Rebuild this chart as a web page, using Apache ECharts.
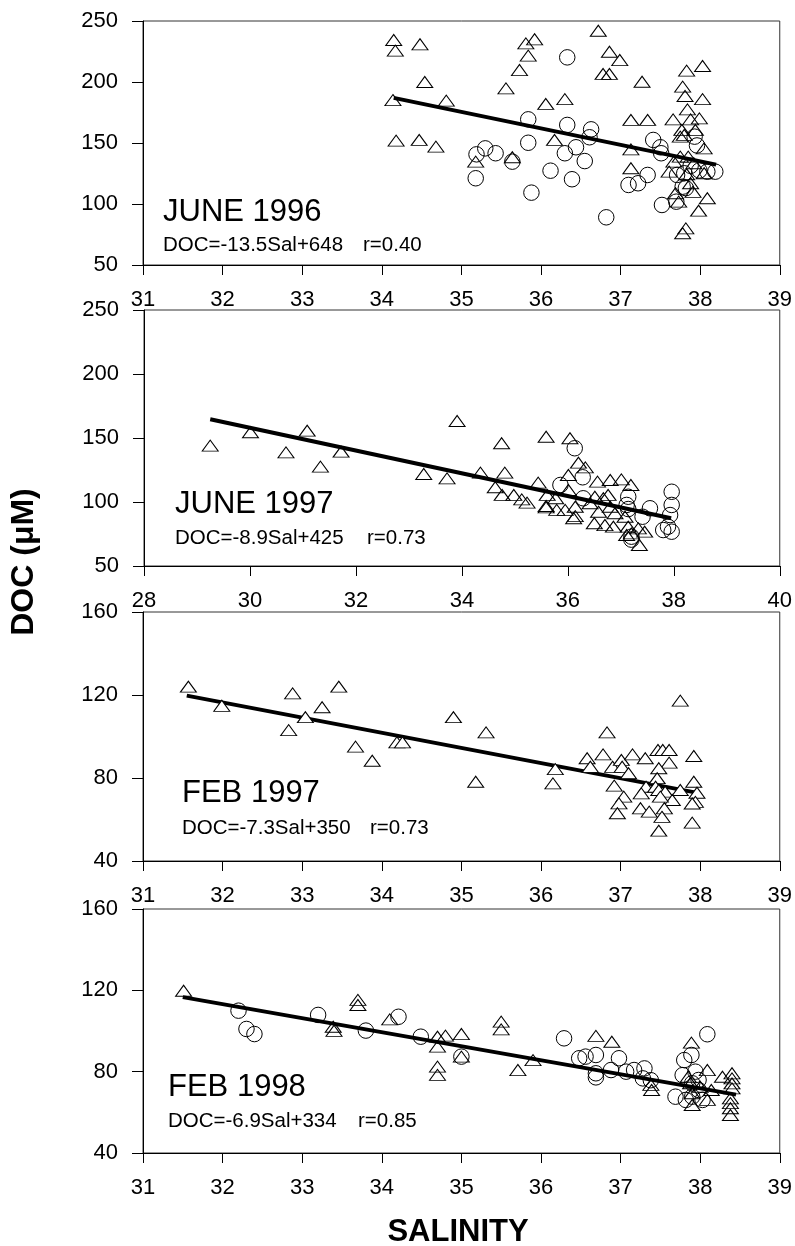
<!DOCTYPE html>
<html>
<head>
<meta charset="utf-8">
<script src="https://cdn.jsdelivr.net/npm/echarts@6/dist/echarts.min.js"></script>
<style>
  html, body { margin: 0; padding: 0; background: #fff; }
  #chart { width: 795px; height: 1246px; }
</style>
</head>
<body>
<div id="chart"></div>
<script>
// Salinity vs DOC, four cruises. Each point: [salinity, DOC (µM)].
const panelTitles = ['JUNE 1996', 'JUNE 1997', 'FEB 1997', 'FEB 1998'];

// Regression fits printed on each panel: DOC = slope*Sal + intercept
const fitSlope = [-13.5, -8.9, -7.3, -6.9];
const fitIntercept = [648, 425, 350, 334];
const fitR = [0.40, 0.73, 0.73, 0.85];
// salinity span covered by each fitted line
const fitSalRange = [[34.15, 38.2], [29.25, 37.95], [31.55, 37.95], [31.5, 38.45]];

// Axis scales per panel
const xMin = [31, 28, 31, 31];
const xMax = [39, 40, 39, 39];
const xStep = [1, 2, 1, 1];
const yMin = [50, 50, 40, 40];
const yMax = [250, 250, 160, 160];
const yStep = [50, 50, 40, 40];

const jun96Tri = [
  [34.15,234.4],[34.17,225.7],[34.48,230.9],[34.54,200],[34.14,185.2],[34.81,184.7],[34.18,151.9],[34.47,152.5],
  [34.68,147],[35.18,134.7],[35.64,138.3],[35.56,194.8],[35.73,209.8],[35.81,231.7],[35.92,235],[35.84,221.6],
  [36.06,182],[36.30,186],[36.17,152.5],[36.72,242],[36.86,224.8],[36.99,218],[36.78,206.6],[36.86,206.6],
  [37.27,200.2],[37.13,168.9],[37.34,168.9],[37.13,144.8],[37.13,129.3],[37.66,169.4],[37.83,209.3],[38.03,213.1],
  [37.78,196.2],[37.81,188.5],[38.03,186],[37.84,177.6],[37.88,169.4],[37.99,170.2],[37.77,160.7],[37.75,155.2],
  [37.80,156.6],[37.94,160.7],[38.05,145.6],[37.75,138.8],[37.85,138.8],[37.67,134.7],[37.92,133.4],[37.61,126.5],
  [38.05,125.2],[37.83,124.4],[37.88,117],[37.69,108.8],[37.91,110],[38.09,104.7],[37.73,101.9],[37.98,94.5],
  [37.82,80],[37.78,76]
];
const jun96Circ = [
  [35.18,121.1],[35.19,140.7],[35.30,145.6],[35.43,141.6],[35.64,134.7],[35.84,169.4],[35.84,150.2],[35.88,109.3],
  [36.12,127.3],[36.33,220.2],[36.33,164.8],[36.30,141.6],[36.44,146.5],[36.39,120.3],[36.55,135.2],[36.63,161.2],
  [36.61,154.7],[36.82,89.1],[37.10,115.6],[37.22,117],[37.34,123.8],[37.41,152.5],[37.50,146.5],[37.51,141.6],
  [37.52,99.2],[37.70,101.9],[37.71,123.8],[37.80,125.2],[37.88,131.3],[37.78,114.2],[37.82,113],[37.93,155.2],
  [37.96,148],[38.09,126.5],[38.19,126.5],[37.99,127.5]
];
const jun97Tri = [
  [29.25,144],[30.01,154.5],[30.68,138.8],[31.08,155.7],[31.33,127.6],[31.72,139.3],[33.28,121.9],[33.72,118.5],
  [33.91,163.3],[34.75,145.9],[35.59,151],[36.04,149.8],[34.35,122.9],[34.81,122.9],[34.63,111.5],[34.76,105.5],
  [34.98,105.5],[35.13,102.1],[35.23,99.5],[35.44,115.1],[35.59,96.9],[35.61,105.5],[35.77,102.9],[36.01,121.1],
  [36.20,130.7],[36.33,127.1],[35.95,93.8],[36.11,87.3],[36.01,109.4],[36.14,96.3],[36.56,115.9],[36.80,117.2],
  [37.01,117.7],[37.19,113.3],[36.51,104.1],[36.67,102.9],[36.76,105.5],[36.42,99],[36.58,92.4],[36.80,96.3],
  [36.89,91.2],[36.50,83.4],[36.70,82],[36.86,80.7],[37.08,88.5],[37.14,80.7],[37.20,75.5],[37.33,79.4],
  [37.45,76.8],[37.35,66.4],[37.11,74.2],[35.79,93.8],[35.59,95.8],[36.14,89]
];
const jun97Circ = [
  [36.13,142],[36.28,119.3],[35.86,113.3],[36.29,102.9],[37.14,104.1],[37.11,97.7],[37.14,94.5],[37.55,95.1],
  [37.41,88.5],[37.20,72.9],[37.20,70.6],[37.96,108],[37.96,97.7],[37.93,89.8],[37.80,78.1],[37.96,76.8],[37.89,80.7]
];
const feb97Tri = [
  [31.57,124],[31.99,114.8],[32.88,120.8],[32.83,103.1],[33.04,109.3],[33.25,114.1],[33.46,124],[33.67,95.1],
  [33.88,88.3],[34.19,97.2],[34.26,97.2],[34.90,109.3],[35.31,102],[35.18,78.2],[36.18,84.3],[36.15,77.4],
  [37.75,117.3],[36.83,102],[36.58,89.5],[36.78,91.4],[36.62,85.4],[36.90,85.4],[37.01,88.7],[37.02,85.4],
  [37.15,91.4],[37.10,82.3],[37.31,89.5],[36.92,76.3],[37.04,71],[36.98,67.8],[36.96,63],[37.47,93.5],
  [37.53,93.5],[37.61,93.5],[37.61,87.4],[37.48,84.7],[37.46,79.9],[37.32,75.8],[37.26,72.6],[37.44,75.8],
  [37.48,74.2],[37.56,73.4],[37.65,69.4],[37.50,71],[37.25,65.4],[37.36,63.8],[37.55,65.4],[37.52,61.3],
  [37.48,54.6],[37.75,74.2],[37.92,90.6],[37.92,78.2],[37.96,72.9],[37.94,68.5],[37.90,67.7],[37.90,58.5]
];
const feb97Circ = [];
const feb98Tri = [
  [31.51,119.8],[33.70,115.3],[33.70,112.8],[33.39,102.1],[33.40,100.1],[34.10,105.7],[34.70,97.2],[34.80,97.7],
  [35.00,98.5],[34.70,92.3],[34.70,82.5],[34.70,78.4],[35.00,87.4],[35.50,104.6],[35.50,100.8],[36.69,97.6],
  [36.89,94.7],[35.71,80.8],[35.90,85.7],[37.39,71],[37.38,73.5],[37.89,94.3],[38.09,80.8],[38.28,77.5],
  [38.40,79.2],[38.40,76.7],[38.40,74.2],[38.40,71.8],[38.38,66.9],[38.38,64.5],[38.38,62],[38.38,58.7],
  [37.90,63.6],[38.09,66.1],[38.14,71],[38.00,72.6],[37.90,69.4],[37.88,74.3],[37.85,77.5]
];
const feb98Circ = [
  [32.20,110],[32.30,101],[32.40,98.5],[33.20,107.9],[33.80,100.2],[34.21,107],[34.49,97.2],[35.00,87.4],
  [36.29,96.4],[38.09,98.4],[36.48,86.6],[36.56,87.4],[36.69,88.2],[36.69,77.2],[36.69,79.2],[36.98,86.6],
  [36.88,80.8],[37.07,80],[37.17,80.8],[37.30,81.6],[37.28,76.7],[37.38,75.8],[37.80,85.7],[37.89,88.2],
  [37.78,78.3],[37.69,67.7],[37.82,66.1],[37.90,67.7],[37.98,71],[38.03,66.1],[37.98,75.9],[37.90,74.3],[37.94,80]
];

const triangles = [jun96Tri, jun97Tri, feb97Tri, feb98Tri];
const circles = [jun96Circ, jun97Circ, feb97Circ, feb98Circ];

// ---- layout ----
const FONT = '"Liberation Sans", Arial, Helvetica, sans-serif';
const gridBoxes = [
  { left: 143, top: 21, width: 638, height: 244 },
  { left: 144, top: 310, width: 638, height: 256 },
  { left: 143, top: 612, width: 638, height: 249 },
  { left: 143, top: 909, width: 638, height: 244 }
];
// title / equation / r placement inside each panel
const textPos = [
  { x: 163, titleY: 212, eqY: 245, rX: 363 },
  { x: 175, titleY: 504, eqY: 538, rX: 367 },
  { x: 182, titleY: 793, eqY: 828, rX: 370 },
  { x: 168, titleY: 1087, eqY: 1121, rX: 358 }
];
// open markers; in the Feb 1997 panel they are opaque and sit over the fit line
const markerFill = ['transparent', 'transparent', '#fff', 'transparent'];
const lineOnTop = [true, true, false, true];

const grids = [], xAxes = [], yAxes = [], series = [], graphics = [];

for (let i = 0; i < 4; i++) {
  grids.push(Object.assign({ show: true, borderColor: '#333', borderWidth: 1, backgroundColor: 'transparent' }, gridBoxes[i]));
  xAxes.push({
    type: 'value', gridIndex: i, min: xMin[i], max: xMax[i], interval: xStep[i],
    axisLine: { show: true, onZero: false, lineStyle: { color: '#000', width: 1 } },
    axisTick: { show: true, inside: false, length: 10, lineStyle: { color: '#000', width: 1 } },
    axisLabel: { margin: 24, fontSize: 22, color: '#000', fontFamily: FONT },
    splitLine: { show: false }
  });
  yAxes.push({
    type: 'value', gridIndex: i, min: yMin[i], max: yMax[i], interval: yStep[i],
    axisLine: { show: true, onZero: false, lineStyle: { color: '#000', width: 1 } },
    axisTick: { show: true, inside: false, length: 11, lineStyle: { color: '#000', width: 1 } },
    axisLabel: { margin: 25, fontSize: 22, color: '#000', fontFamily: FONT },
    splitLine: { show: false }
  });

  const [s0, s1] = fitSalRange[i];
  series.push({
    type: 'line', xAxisIndex: i, yAxisIndex: i, symbol: 'none', silent: true,
    z: lineOnTop[i] ? 5 : 2,
    lineStyle: { color: '#000', width: 4 },
    data: [[s0, fitSlope[i] * s0 + fitIntercept[i]], [s1, fitSlope[i] * s1 + fitIntercept[i]]]
  });
  series.push({
    type: 'scatter', xAxisIndex: i, yAxisIndex: i, z: 3,
    symbol: 'triangle', symbolSize: [16, 11],
    itemStyle: { color: markerFill[i], borderColor: '#000', borderWidth: 1, opacity: 1 },
    data: triangles[i]
  });
  if (circles[i].length) {
    series.push({
      type: 'scatter', xAxisIndex: i, yAxisIndex: i, z: 4,
      symbol: 'circle', symbolSize: 15.5,
      itemStyle: { color: markerFill[i], borderColor: '#000', borderWidth: 1, opacity: 1 },
      data: circles[i]
    });
  }

  const p = textPos[i];
  graphics.push({
    type: 'text', x: p.x, y: p.titleY, z: 10,
    style: { text: panelTitles[i], font: '31px ' + FONT, fill: '#000', align: 'left', verticalAlign: 'middle' }
  });
  graphics.push({
    type: 'text', x: p.x, y: p.eqY, z: 10,
    style: { text: 'DOC=' + fitSlope[i] + 'Sal+' + fitIntercept[i], font: '20.5px ' + FONT, fill: '#000', align: 'left', verticalAlign: 'middle' }
  });
  graphics.push({
    type: 'text', x: p.rX, y: p.eqY, z: 10,
    style: { text: 'r=' + fitR[i].toFixed(2), font: '20.5px ' + FONT, fill: '#000', align: 'left', verticalAlign: 'middle' }
  });
}

// shared axis titles
graphics.push({
  type: 'text', x: 24, y: 562, rotation: Math.PI / 2, z: 10,
  style: { text: 'DOC (\u03BCM)', font: 'bold 32px ' + FONT, fill: '#000', align: 'center', verticalAlign: 'middle' }
});
graphics.push({
  type: 'text', x: 458, y: 1232, z: 10,
  style: { text: 'SALINITY', font: 'bold 31px ' + FONT, fill: '#000', align: 'center', verticalAlign: 'middle' }
});

const chart = echarts.init(document.getElementById('chart'), null, { renderer: 'canvas' });
chart.setOption({
  backgroundColor: '#fff',
  animation: false,
  grid: grids,
  xAxis: xAxes,
  yAxis: yAxes,
  series: series,
  graphic: graphics
});
</script>
</body>
</html>
